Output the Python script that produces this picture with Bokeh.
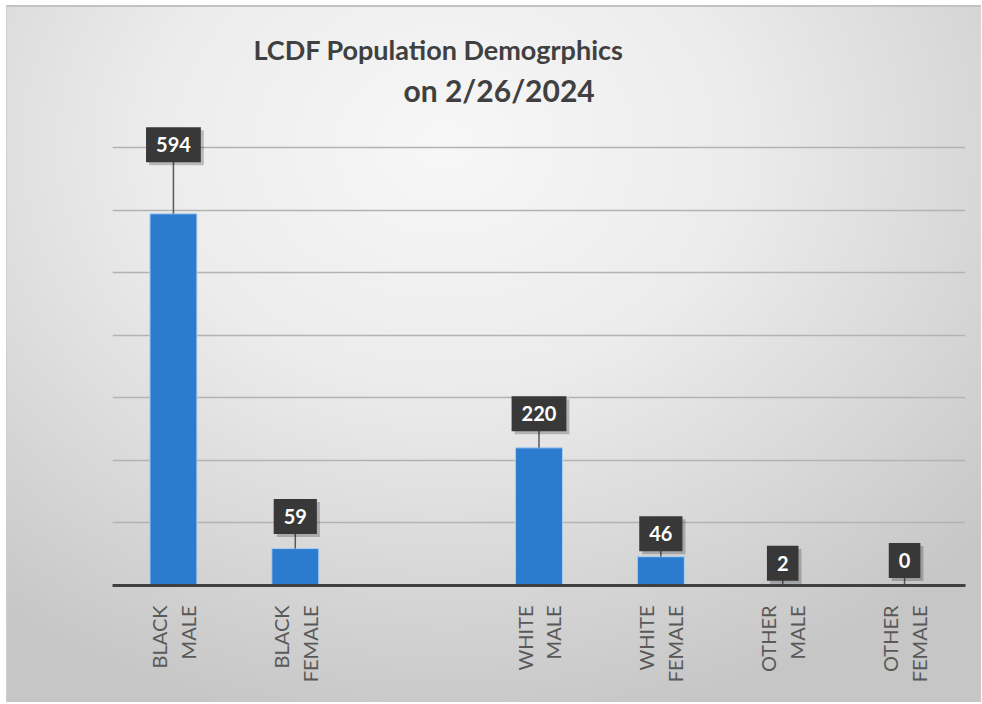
import math
from bokeh.plotting import figure
from bokeh.models import Title, SingleIntervalTicker, FactorRange, Range1d
from bokeh.core.properties import value
from bokeh.embed import file_html
from bokeh.resources import INLINE

# ---- data ----
factors = ["BLACK\nMALE", "BLACK\nFEMALE", " ", "WHITE\nMALE", "WHITE\nFEMALE",
           "OTHER\nMALE", "OTHER\nFEMALE"]
categories = ["BLACK\nMALE", "BLACK\nFEMALE", "WHITE\nMALE", "WHITE\nFEMALE",
              "OTHER\nMALE", "OTHER\nFEMALE"]
counts = [594, 59, 220, 46, 2, 0]
title_line1 = "LCDF Population Demogrphics"
title_line2 = "on 2/26/2024"

# ---- style: distance (px) from bar top to the centre of each callout ----
callout_px = [69, 32, 34, 23, 21, 25]

W, H = 975, 697
B_LEFT, B_RIGHT, B_TOP, B_BOTTOM = 105, 17, 115, 119
Y_END = 740
ppu = (H - B_TOP - B_BOTTOM) / Y_END
label_y = [c + d / ppu for c, d in zip(counts, callout_px)]
labels = [str(c) for c in counts]

FONT = "Lato"

p = figure(width=W, height=H, x_range=FactorRange(*factors), y_range=Range1d(0, Y_END),
           output_backend="svg", toolbar_location=None, title=None,
           min_border_left=B_LEFT, min_border_right=B_RIGHT,
           min_border_top=B_TOP, min_border_bottom=B_BOTTOM)
p.styles = {"background": "radial-gradient(ellipse 75% 85% at 45% 20%, #f7f7f7 0%, #ececec 40%, #d8d8d8 72%, #c6c6c6 100%)",
            "border-top": "2px solid #c2c2c2", "border-left": "1px solid #cfcfcf",
            "margin-left": "6px", "margin-top": "5px"}
p.background_fill_alpha = 0
p.border_fill_alpha = 0
p.outline_line_color = None

p.yaxis.visible = False
p.xgrid.grid_line_color = None
p.ygrid.ticker = SingleIntervalTicker(interval=100)
p.ygrid.grid_line_color = "#b3b3b3"
p.ygrid.grid_line_width = 1.6

xa = p.xaxis[0]
xa.axis_line_color = "#404040"
xa.axis_line_width = 3
xa.major_tick_line_color = None
xa.minor_tick_line_color = None
xa.major_label_orientation = math.pi / 2
xa.major_label_text_font = FONT
xa.major_label_text_font_size = "20px"
xa.major_label_text_color = "#595959"
xa.major_label_standoff = 14

p.vbar(x=categories, top=counts, width=0.385, fill_color="#2b7bcf",
       line_color="#a9cdf1", line_width=1)

# leader lines
p.segment(x0=categories, y0=counts, x1=categories, y1=label_y,
          line_color="#595959", line_width=1.5)

pad = dict(left=10, right=10, top=10, bottom=10)
# shadow
p.text(x=categories, y=label_y, text=labels, x_offset=3, y_offset=3,
       text_align="center", text_baseline="middle",
       text_font=value(FONT), text_font_size="20px", text_font_style="bold",
       text_alpha=0, background_fill_color="#000000", background_fill_alpha=0.22,
       padding=pad)
p.text(x=categories, y=label_y, text=labels,
       text_align="center", text_baseline="middle",
       text_font=value(FONT), text_font_size="20px", text_font_style="bold",
       text_color="#ffffff", background_fill_color="#383838",
       padding=pad)

# title: second line first (nearest to the frame), then first line above it
for txt, off, so, fs in [(title_line2, 291, 30, "30px"), (title_line1, 141, -23, "27px")]:
    p.add_layout(Title(text=txt, align="left", offset=off,
                       text_font=FONT, text_font_size=fs, text_font_style="bold",
                       text_color="#404040", standoff=so), "above")

open("out.html", "w").write(file_html(p, INLINE))
